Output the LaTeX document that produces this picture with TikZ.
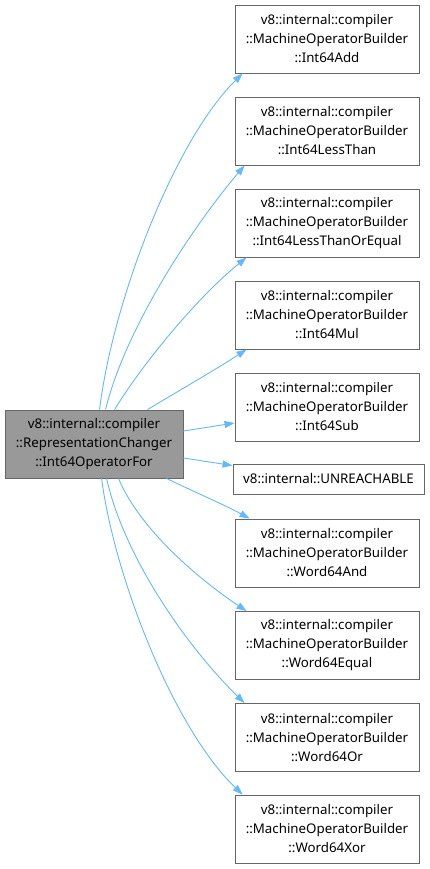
\documentclass[tikz,border=0pt]{standalone}
\usepackage{fontspec}
\setmainfont{Noto Sans}
\usetikzlibrary{arrows.meta}
\definecolor{edgeblue}{HTML}{63B8FF}
\definecolor{boxgray}{HTML}{666666}
\definecolor{srcfill}{HTML}{999999}
\begin{document}
\begin{tikzpicture}[x=1pt,y=-1pt,
  box/.style={draw=boxgray, line width=0.9pt, fill=white, minimum width=184pt, minimum height=68pt, inner sep=0pt, align=center, font=\fontsize{13.3}{19}\selectfont},
  srcbox/.style={box, fill=srcfill, minimum width=178pt},
  smallbox/.style={box, minimum width=191pt, minimum height=30pt},
  edge/.style={draw=edgeblue, line width=0.9pt, -{Triangle[length=10pt,width=7pt]}}]
\useasboundingbox (0,0) rectangle (429,869);

\node[srcbox] (src) at (94,444) {v8::internal::compiler\\::RepresentationChanger\\::Int64OperatorFor};

\node[box] (add) at (327,39) {v8::internal::compiler\\::MachineOperatorBuilder\\::Int64Add};
\node[box] (lt) at (327,131) {v8::internal::compiler\\::MachineOperatorBuilder\\::Int64LessThan};
\node[box] (lte) at (327,223) {v8::internal::compiler\\::MachineOperatorBuilder\\::Int64LessThanOrEqual};
\node[box] (mul) at (327,315) {v8::internal::compiler\\::MachineOperatorBuilder\\::Int64Mul};
\node[box] (sub) at (327,407) {v8::internal::compiler\\::MachineOperatorBuilder\\::Int64Sub};
\node[smallbox] (unr) at (328.5,479) {v8::internal::UNREACHABLE};
\node[box] (wand) at (327,553) {v8::internal::compiler\\::MachineOperatorBuilder\\::Word64And};
\node[box] (weq) at (327,645.5) {v8::internal::compiler\\::MachineOperatorBuilder\\::Word64Equal};
\node[box] (wor) at (327,737.5) {v8::internal::compiler\\::MachineOperatorBuilder\\::Word64Or};
\node[box] (wxor) at (327,829) {v8::internal::compiler\\::MachineOperatorBuilder\\::Word64Xor};

\draw[edge] ([xshift=95pt]src.north west) .. controls (113,300) and (175,140) .. ([xshift=8pt]add.south west);
\draw[edge] ([xshift=101pt]src.north west) .. controls (125,330) and (190,230) .. ([xshift=10pt]lt.south west);
\draw[edge] ([xshift=110pt]src.north west) .. controls (145,360) and (200,295) .. ([xshift=12pt]lte.south west);
\draw[edge] ([xshift=143pt]src.north west) .. controls (180,390) and (215,370) .. ([xshift=12pt]mul.south west);
\draw[edge] ([yshift=13pt]src.east) -- ([yshift=-16pt]sub.west);
\draw[edge] ([yshift=-14pt]src.east) -- ([yshift=-2pt,xshift=0pt]unr.north west);
\draw[edge] ([xshift=162pt]src.south west) .. controls (190,490) and (225,505) .. ([xshift=15pt]wand.north west);
\draw[edge] ([xshift=114pt]src.south west) .. controls (140,530) and (200,580) .. ([xshift=12pt]weq.north west);
\draw[edge] ([xshift=102pt]src.south west) .. controls (125,560) and (190,650) .. ([xshift=10pt]wor.north west);
\draw[edge] ([xshift=97pt]src.south west) .. controls (115,580) and (175,730) .. ([xshift=8pt]wxor.north west);
\end{tikzpicture}
\end{document}
